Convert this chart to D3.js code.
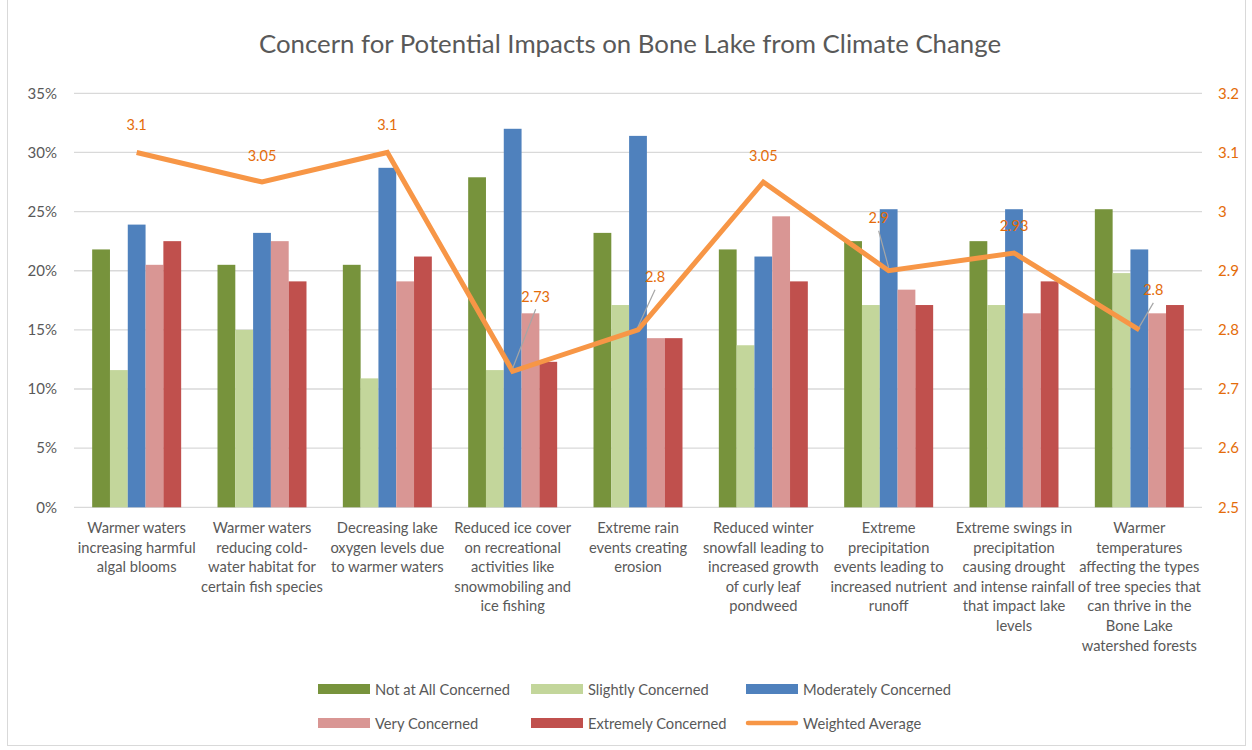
<!DOCTYPE html>
<html><head><meta charset="utf-8">
<script src="https://cdn.jsdelivr.net/npm/d3@7"></script>
<style>body{margin:0;background:#fff}svg{display:block;font-family:Lato,"Liberation Sans",sans-serif}</style>
</head><body><svg id="c" width="1252" height="750"></svg>
<script>
const categories = [
  "Warmer waters\nincreasing harmful\nalgal blooms",
  "Warmer waters\nreducing cold-\nwater habitat for\ncertain fish species",
  "Decreasing lake\noxygen levels due\nto warmer waters",
  "Reduced ice cover\non recreational\nactivities like\nsnowmobiling and\nice fishing",
  "Extreme rain\nevents creating\nerosion",
  "Reduced winter\nsnowfall leading to\nincreased growth\nof curly leaf\npondweed",
  "Extreme\nprecipitation\nevents leading to\nincreased nutrient\nrunoff",
  "Extreme swings in\nprecipitation\ncausing drought\nand intense rainfall\nthat impact lake\nlevels",
  "Warmer\ntemperatures\naffecting the types\nof tree species that\ncan thrive in the\nBone Lake\nwatershed forests"
];
const seriesNames = ["Not at All Concerned","Slightly Concerned","Moderately Concerned","Very Concerned","Extremely Concerned"];
const notAtAll   = [21.8, 20.5, 20.5, 27.9, 23.2, 21.8, 22.5, 22.5, 25.2];
const slightly   = [11.6, 15.0, 10.9, 11.6, 17.1, 13.7, 17.1, 17.1, 19.8];
const moderately = [23.9, 23.2, 28.7, 32.0, 31.4, 21.2, 25.2, 25.2, 21.8];
const very       = [20.5, 22.5, 19.1, 16.4, 14.3, 24.6, 18.4, 16.4, 16.4];
const extremely  = [22.5, 19.1, 21.2, 12.3, 14.3, 19.1, 17.1, 19.1, 17.1];
const weightedAvg = [3.1, 3.05, 3.1, 2.73, 2.8, 3.05, 2.9, 2.93, 2.8];
const leftTicks = [0,5,10,15,20,25,30,35];
const rightTicks = [2.5,2.6,2.7,2.8,2.9,3.0,3.1,3.2];
const lineName = "Weighted Average";
const title = "Concern for Potential Impacts on Bone Lake from Climate Change";

const colors = ["#77933C","#C3D69B","#4F81BD","#D99694","#C0504D"];
const lineColor = "#F79646", labelColor = "#E46C0A", textColor = "#595959", gridColor = "#D9D9D9";
// label offsets (dx, dy, leader) for data labels, layout only
const labelOffsets = [[0,-28,0],[0,-27,0],[0,-28,0],[23,-75,1],[17,-53,1],[0,-27,0],[-10,-53,1],[0,-27,0],[14,-40,1]];

const series = [notAtAll, slightly, moderately, very, extremely];
const svg = d3.select("#c");
const L = 74, R = 1202, T = 93.3, B = 507.3;

svg.append("rect").attr("x",7.5).attr("y",-1).attr("width",1238).attr("height",746.5)
  .attr("fill","none").attr("stroke","#D9D9D9").attr("stroke-width",1);

const idx = d3.range(categories.length);
const x0 = d3.scaleBand().domain(idx).range([L,R]).paddingInner(0.29).paddingOuter(0.145);
const x1 = d3.scaleBand().domain(d3.range(series.length)).range([0,x0.bandwidth()]);
const y = d3.scaleLinear().domain([0,35]).range([B,T]);
const y2 = d3.scaleLinear().domain([2.5,3.2]).range([B,T]);

// gridlines
svg.append("g").selectAll("line").data(leftTicks).join("line")
  .attr("x1",L).attr("x2",R).attr("y1",d=>y(d)).attr("y2",d=>y(d))
  .attr("stroke",gridColor).attr("stroke-width",1.3);

// left axis
const ax = svg.append("g").attr("transform",`translate(${L},0)`)
  .call(d3.axisLeft(y).tickValues(leftTicks).tickFormat(d=>d+"%").tickSize(0).tickPadding(17));
ax.select(".domain").remove();
ax.selectAll("text").attr("fill",textColor).style("font-size","15px").style("font-family","Lato");

const ax2 = svg.append("g").attr("transform",`translate(${R},0)`)
  .call(d3.axisRight(y2).tickValues(rightTicks).tickFormat(d=>String(+d.toFixed(1))).tickSize(0).tickPadding(16));
ax2.select(".domain").remove();
ax2.selectAll("text").attr("fill",labelColor).style("font-size","15px").style("font-family","Lato");

// bars
const g = svg.append("g");
series.forEach((s,si)=>{
  g.append("g").selectAll("rect").data(s).join("rect")
    .attr("x",(d,i)=>x0(i)+x1(si)).attr("width",x1.bandwidth())
    .attr("y",d=>y(d)).attr("height",d=>B-y(d)).attr("fill",colors[si]);
});

// line
const cx = i => x0(i)+x0.bandwidth()/2;
svg.append("path").datum(weightedAvg)
  .attr("d",d3.line().x((d,i)=>cx(i)).y(d=>y2(d)))
  .attr("fill","none").attr("stroke",lineColor).attr("stroke-width",5).attr("stroke-linejoin","miter");

// leader lines + labels
weightedAvg.forEach((v,i)=>{
  const [dx,dy,lead] = labelOffsets[i];
  const px = cx(i), py = y2(v);
  if(lead){
    svg.append("line").attr("x1",px).attr("y1",py-3).attr("x2",px+dx).attr("y2",py+dy+13)
      .attr("stroke","#A6A6A6").attr("stroke-width",1.2);
  }
  svg.append("text").attr("x",px+dx).attr("y",py+dy).attr("text-anchor","middle")
    .attr("dominant-baseline","central").attr("fill",labelColor).style("font-size","14.5px").text(v);
});

// category labels
idx.forEach(i=>{
  const t = svg.append("text").attr("text-anchor","middle").attr("fill",textColor).style("font-size","14.7px");
  categories[i].split("\n").forEach((ln,k)=>{
    t.append("tspan").attr("x",cx(i)).attr("y",533+k*19.6).text(ln);
  });
});

// title
svg.append("text").attr("x",630).attr("y",53).attr("text-anchor","middle").attr("fill",textColor)
  .style("font-size","25.8px").text(title);

// legend
const legItems = seriesNames.map((n,i)=>({name:n,color:colors[i],type:"bar"})).concat([{name:lineName,color:lineColor,type:"line"}]);
const colX = [318,531,746], rowY = [689,723];
legItems.forEach((it,i)=>{
  const lx = colX[i%3], ly = rowY[Math.floor(i/3)];
  if(it.type==="bar") svg.append("rect").attr("x",lx).attr("y",ly-5).attr("width",52).attr("height",10).attr("fill",it.color);
  else svg.append("line").attr("x1",lx+2).attr("x2",lx+50).attr("y1",ly).attr("y2",ly).attr("stroke",it.color).attr("stroke-width",4.5).attr("stroke-linecap","round");
  svg.append("text").attr("x",lx+57).attr("y",ly).attr("dominant-baseline","central").attr("fill",textColor)
    .style("font-size","14.7px").text(it.name);
});
</script></body></html>
